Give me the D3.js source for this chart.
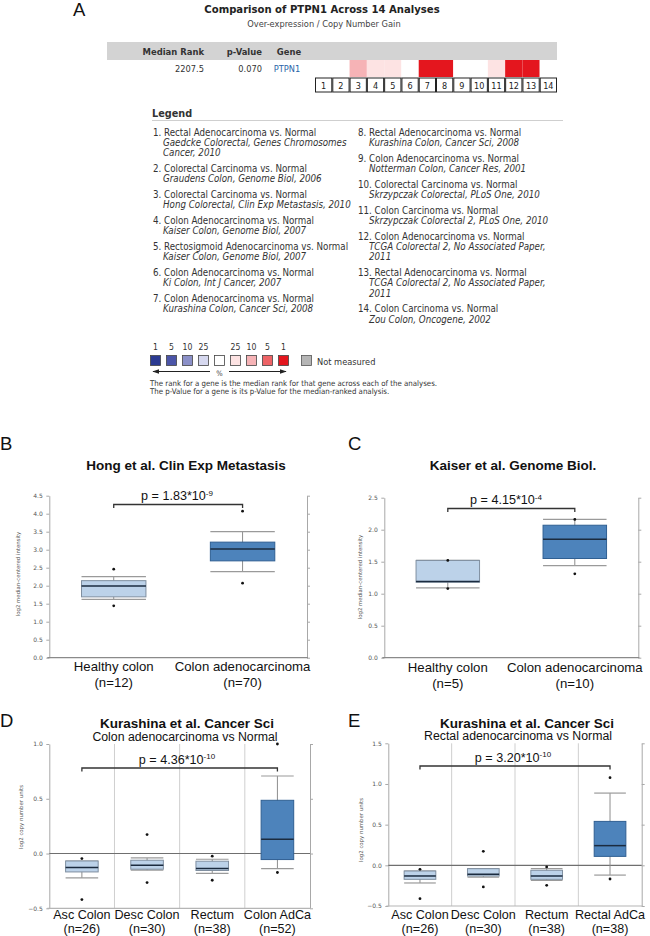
<!DOCTYPE html>
<html>
<head>
<meta charset="utf-8">
<script src="https://cdn.jsdelivr.net/npm/d3@7"></script>
<style>
  body { margin: 0; background: #fff; }
  svg { display: block; }
</style>
</head>
<body>
<div id="chart"></div>
<script>
// ---- panel A data ----
const analysisIds = [1, 2, 3, 4, 5, 6, 7, 8, 9, 10, 11, 12, 13, 14];
// rank bin (top % over-expressed) for each analysis, null = not significant
const analysisBins = [null, null, "10", "25", "25", null, "1", "1", null, null, "25", "1", "1", null];
const medianRank = "2207.5";
const pValue = "0.070";
const geneName = "PTPN1";

const legendLeft = [
  ["1. Rectal Adenocarcinoma vs. Normal", "Gaedcke Colorectal, Genes Chromosomes", "Cancer, 2010"],
  ["2. Colorectal Carcinoma vs. Normal", "Graudens Colon, Genome Biol, 2006"],
  ["3. Colorectal Carcinoma vs. Normal", "Hong Colorectal, Clin Exp Metastasis, 2010"],
  ["4. Colon Adenocarcinoma vs. Normal", "Kaiser Colon, Genome Biol, 2007"],
  ["5. Rectosigmoid Adenocarcinoma vs. Normal", "Kaiser Colon, Genome Biol, 2007"],
  ["6. Colon Adenocarcinoma vs. Normal", "Ki Colon, Int J Cancer, 2007"],
  ["7. Colon Adenocarcinoma vs. Normal", "Kurashina Colon, Cancer Sci, 2008"]
];
const legendRight = [
  ["8. Rectal Adenocarcinoma vs. Normal", "Kurashina Colon, Cancer Sci, 2008"],
  ["9. Colon Adenocarcinoma vs. Normal", "Notterman Colon, Cancer Res, 2001"],
  ["10. Colorectal Carcinoma vs. Normal", "Skrzypczak Colorectal, PLoS One, 2010"],
  ["11. Colon Carcinoma vs. Normal", "Skrzypczak Colorectal 2, PLoS One, 2010"],
  ["12. Colon Adenocarcinoma vs. Normal", "TCGA Colorectal 2, No Associated Paper,", "2011"],
  ["13. Rectal Adenocarcinoma vs. Normal", "TCGA Colorectal 2, No Associated Paper,", "2011"],
  ["14. Colon Carcinoma vs. Normal", "Zou Colon, Oncogene, 2002"]
];

const scaleKeys = ["u1", "u5", "u10", "u25", "mid", "1", "5", "10", "25"];
const scaleLabels = ["1", "5", "10", "25", "", "25", "10", "5", "1"];
const scaleColors = ["#2b3a92", "#4b55a8", "#8b90c8", "#d6d8ef", "#ffffff", "#fde3e3", "#f6b3b6", "#ee6366", "#e4161e"];
const redBins = ["25", "10", "5", "1"];
const footNotes = [
  "The rank for a gene is the median rank for that gene across each of the analyses.",
  "The p-Value for a gene is its p-Value for the median-ranked analysis."
];

// ---- panel B ----
const bGroups = ["Healthy colon", "Colon adenocarcinoma"];
const bN = ["(n=12)", "(n=70)"];
// [whisker low, q1, median, q3, whisker high]
const bBoxes = [[1.62, 1.69, 1.99, 2.14, 2.25], [2.39, 2.69, 3.02, 3.21, 3.50]];
const bPoints = [[1.44, 2.46], [2.07, 4.07]];
const bTicks = [0, 0.5, 1, 1.5, 2, 2.5, 3, 3.5, 4, 4.5];

// ---- panel C ----
const cGroups = ["Healthy colon", "Colon adenocarcinoma"];
const cN = ["(n=5)", "(n=10)"];
const cBoxes = [[1.09, 1.18, 1.19, 1.52, 1.52], [1.44, 1.55, 1.85, 2.07, 2.16]];
const cPoints = [[1.08, 1.52], [1.31, 2.16]];
const cTicks = [0, 0.5, 1, 1.5, 2, 2.5];

// ---- panel D ----
const dGroups = ["Asc Colon", "Desc Colon", "Rectum", "Colon AdCa"];
const dN = ["(n=26)", "(n=30)", "(n=38)", "(n=52)"];
const dBoxes = [
  [-0.223, -0.168, -0.128, -0.068, -0.068],
  [-0.152, -0.143, -0.107, -0.061, -0.040],
  [-0.182, -0.155, -0.137, -0.070, -0.052],
  [-0.137, -0.055, 0.130, 0.486, 0.708]
];
const dPoints = [[-0.42, -0.046], [-0.265, 0.173], [-0.244, -0.024], [-0.173, 1.0]];
const dTicks = [-0.5, 0, 0.5, 1.0];

// ---- panel E ----
const eGroups = ["Asc Colon", "Desc Colon", "Rectum", "Rectal AdCa"];
const eN = ["(n=26)", "(n=30)", "(n=38)", "(n=38)"];
const eBoxes = [
  [-0.217, -0.172, -0.131, -0.070, -0.070],
  [-0.144, -0.131, -0.110, -0.041, -0.040],
  [-0.184, -0.172, -0.131, -0.061, -0.040],
  [-0.120, 0.110, 0.242, 0.540, 0.888]
];
const ePoints = [[-0.41, -0.049], [-0.266, 0.172], [-0.246, -0.020], [-0.168, 1.077]];
const eTicks = [-0.5, 0, 0.5, 1.0, 1.5];

// ---------------------------------------------------------------
const W = 650, H = 936;
const arial = "'Liberation Sans', Arial, sans-serif";
const tahoma = "'DejaVu Sans Condensed', 'DejaVu Sans', Verdana, sans-serif";
const lightFill = "#bcd2e9", darkFill = "#4d83bb";

const svg = d3.select("#chart").append("svg")
  .attr("width", W).attr("height", H)
  .style("background", "#fff");

svg.append("rect").attr("width", W).attr("height", H).attr("fill", "#fff");

function panelLetter(x, y, t) {
  svg.append("text").attr("x", x).attr("y", y)
    .attr("font-family", arial).attr("font-size", 18.5).attr("fill", "#111")
    .text(t);
}

// ================= Panel A =================
const a = svg.append("g");
panelLetter(73, 16, "A");

a.append("text").attr("x", 322).attr("y", 13).attr("text-anchor", "middle")
  .attr("font-family", tahoma).attr("font-weight", "bold").attr("font-size", 11.2).attr("fill", "#222")
  .text("Comparison of " + geneName + " Across 14 Analyses");
a.append("text").attr("x", 324).attr("y", 27).attr("text-anchor", "middle")
  .attr("font-family", tahoma).attr("font-size", 9.2).attr("fill", "#444")
  .text("Over-expression / Copy Number Gain");

a.append("rect").attr("x", 107).attr("y", 42).attr("width", 450).attr("height", 18)
  .attr("fill", "#d3d3d3");

const hdr = [["Median Rank", 204, "end"], ["p-Value", 262, "end"], ["Gene", 289, "middle"]];
a.selectAll("text.hdr").data(hdr).enter().append("text")
  .attr("class", "hdr")
  .attr("x", d => d[1]).attr("y", 55).attr("text-anchor", d => d[2])
  .attr("font-family", tahoma).attr("font-weight", "bold").attr("font-size", 9.4).attr("fill", "#333")
  .text(d => d[0]);

const rowVals = [[medianRank, 204, "end", "#333"], [pValue, 262, "end", "#333"], [geneName, 287, "middle", "#2a64a8"]];
a.selectAll("text.rowv").data(rowVals).enter().append("text")
  .attr("class", "rowv")
  .attr("x", d => d[1]).attr("y", 72).attr("text-anchor", d => d[2])
  .attr("font-family", tahoma).attr("font-size", 9.2).attr("fill", d => d[3])
  .text(d => d[0]);

const xCell = d3.scaleBand().domain(analysisIds).range([315, 557]);
const binColor = d3.scaleOrdinal().domain(redBins).range(scaleColors.slice(5)).unknown("#ffffff");

a.selectAll("rect.cell").data(analysisIds).enter().append("rect")
  .attr("class", "cell")
  .attr("x", d => xCell(d)).attr("y", 60)
  .attr("width", xCell.bandwidth()).attr("height", 17)
  .attr("fill", (d, i) => binColor(analysisBins[i]));

a.selectAll("rect.num").data(analysisIds).enter().append("rect")
  .attr("class", "num")
  .attr("x", d => xCell(d) + 0.5).attr("y", 78)
  .attr("width", xCell.bandwidth() - 1).attr("height", 14)
  .attr("fill", "#fff").attr("stroke", "#222").attr("stroke-width", 1);

a.selectAll("text.num").data(analysisIds).enter().append("text")
  .attr("class", "num")
  .attr("x", d => xCell(d) + xCell.bandwidth() / 2).attr("y", 89)
  .attr("text-anchor", "middle")
  .attr("font-family", tahoma).attr("font-size", 9).attr("fill", "#222")
  .text(d => d);

// legend
a.append("text").attr("x", 152).attr("y", 117)
  .attr("font-family", tahoma).attr("font-weight", "bold").attr("font-size", 10.8).attr("fill", "#333")
  .text("Legend");
a.append("line").attr("x1", 152).attr("x2", 563).attr("y1", 120.5).attr("y2", 120.5)
  .attr("stroke", "#cfcfcf").attr("stroke-width", 1.2);

function legendColumn(items, x0, indent) {
  let y = 135.5;
  items.forEach(lines => {
    lines.forEach((t, j) => {
      a.append("text")
        .attr("x", j === 0 ? x0 : x0 + indent).attr("y", y + j * 10.4)
        .attr("font-family", tahoma).attr("font-size", 9.7)
        .attr("font-style", j === 0 ? "normal" : "italic")
        .attr("fill", "#333")
        .text(t);
    });
    y += lines.length * 10.4 + 5.2;
  });
}
legendColumn(legendLeft, 153, 10);
legendColumn(legendRight, 358, 11);

// colour scale
const xKey = d3.scalePoint().domain(scaleKeys).range([155.5, 283.5]);
a.selectAll("rect.key").data(scaleKeys).enter().append("rect")
  .attr("class", "key")
  .attr("x", d => xKey(d) - 5).attr("y", 355.5)
  .attr("width", 10).attr("height", 10)
  .attr("fill", (d, i) => scaleColors[i]).attr("stroke", "#444").attr("stroke-width", 0.8);
a.selectAll("text.key").data(scaleKeys).enter().append("text")
  .attr("class", "key")
  .attr("x", d => xKey(d)).attr("y", 350)
  .attr("text-anchor", "middle")
  .attr("font-family", tahoma).attr("font-size", 8.6).attr("fill", "#333")
  .text((d, i) => scaleLabels[i]);
a.append("rect").attr("x", 301.5).attr("y", 355.5).attr("width", 10).attr("height", 10)
  .attr("fill", "#b5b5b5").attr("stroke", "#555").attr("stroke-width", 0.8);
a.append("text").attr("x", 317).attr("y", 364.5)
  .attr("font-family", tahoma).attr("font-size", 9.2).attr("fill", "#333")
  .text("Not measured");

const defs = svg.append("defs");
defs.append("marker").attr("id", "ah").attr("viewBox", "0 0 10 10")
  .attr("refX", 9).attr("refY", 5).attr("markerWidth", 7).attr("markerHeight", 7)
  .attr("orient", "auto-start-reverse")
  .append("path").attr("d", "M0,1.5L10,5L0,8.5Z").attr("fill", "#222");
a.append("line").attr("x1", 210).attr("x2", 153).attr("y1", 371.5).attr("y2", 371.5)
  .attr("stroke", "#222").attr("stroke-width", 1).attr("marker-end", "url(#ah)");
a.append("line").attr("x1", 229).attr("x2", 286).attr("y1", 371.5).attr("y2", 371.5)
  .attr("stroke", "#222").attr("stroke-width", 1).attr("marker-end", "url(#ah)");
a.append("text").attr("x", 219.5).attr("y", 375.5).attr("text-anchor", "middle")
  .attr("font-family", tahoma).attr("font-size", 7.5).attr("fill", "#444").text("%");

a.selectAll("text.foot").data(footNotes).enter().append("text")
  .attr("class", "foot")
  .attr("x", 150).attr("y", (d, i) => 386 + i * 8)
  .attr("font-family", tahoma).attr("font-size", 7.8).attr("fill", "#333")
  .text(d => d);

// ================= Box plot panels =================
function boxPanel(cfg) {
  const g = svg.append("g");
  const y = d3.scaleLinear().domain(cfg.domain).range([cfg.bottom, cfg.top]);
  const x = d3.scalePoint().domain(cfg.groups).range([cfg.left, cfg.right]).padding(0.5);
  const step = x.step();
  const bw = step * cfg.boxFrac;

  // title(s)
  g.append("text").attr("x", cfg.titleX).attr("y", cfg.titleY).attr("text-anchor", "middle")
    .attr("font-family", arial).attr("font-weight", "bold").attr("font-size", 13.5).attr("fill", "#111")
    .text(cfg.title);
  if (cfg.subtitle) {
    g.append("text").attr("x", cfg.subX).attr("y", cfg.titleY + 12.5).attr("text-anchor", "middle")
      .attr("font-family", arial).attr("font-size", 12.3).attr("fill", "#111")
      .text(cfg.subtitle);
  }

  // band separators
  if (cfg.separators) {
    g.selectAll("line.sep").data(cfg.groups.slice(1)).enter().append("line")
      .attr("x1", d => x(d) - step / 2).attr("x2", d => x(d) - step / 2)
      .attr("y1", cfg.top).attr("y2", cfg.bottom)
      .attr("stroke", "#cfcfcf").attr("stroke-width", 1);
  }

  // axes
  const yl = g.append("g").attr("transform", `translate(${cfg.left},0)`)
    .call(d3.axisLeft(y).tickValues(cfg.ticks).tickFormat(d3.format(".1f")).tickSize(3).tickSizeOuter(0).tickPadding(3.5));
  const yr = g.append("g").attr("transform", `translate(${cfg.right},0)`)
    .call(d3.axisRight(y).tickValues(cfg.ticks).tickFormat("").tickSize(3).tickSizeOuter(0));
  [yl, yr].forEach(ax => {
    ax.select(".domain").attr("stroke", "#a8a8a8");
    ax.selectAll(".tick line").attr("stroke", "#a8a8a8");
    ax.selectAll("text").attr("font-family", "'DejaVu Sans', sans-serif").attr("font-size", 6).attr("fill", "#555");
  });
  g.append("line").attr("x1", cfg.left - 2).attr("x2", cfg.right + 1)
    .attr("y1", cfg.bottom).attr("y2", cfg.bottom)
    .attr("stroke", cfg.separators ? "#b5b5b5" : "#8a8a8a").attr("stroke-width", 1.2);
  if (cfg.zeroLine) {
    g.append("line").attr("x1", cfg.left).attr("x2", cfg.right)
      .attr("y1", y(0)).attr("y2", y(0))
      .attr("stroke", "#6f6f6f").attr("stroke-width", 1.1);
  }

  g.append("text")
    .attr("transform", `translate(${cfg.yLabelX},${cfg.yLabelY}) rotate(-90)`)
    .attr("text-anchor", "middle")
    .attr("font-family", "'DejaVu Sans', sans-serif").attr("font-size", 5.4).attr("fill", "#555")
    .text(cfg.yLabel);

  // boxes
  const box = g.selectAll("g.box").data(cfg.boxes).enter().append("g")
    .attr("transform", (d, i) => `translate(${x(cfg.groups[i])},0)`);
  box.append("line").attr("x1", 0).attr("x2", 0)
    .attr("y1", d => y(d[0])).attr("y2", d => y(d[4]))
    .attr("stroke", "#8d8d8d").attr("stroke-width", 1);
  box.append("line").attr("x1", -bw / 2).attr("x2", bw / 2)
    .attr("y1", d => y(d[0])).attr("y2", d => y(d[0]))
    .attr("stroke", "#9a9a9a").attr("stroke-width", 1.2);
  box.append("line").attr("x1", -bw / 2).attr("x2", bw / 2)
    .attr("y1", d => y(d[4])).attr("y2", d => y(d[4]))
    .attr("stroke", "#9a9a9a").attr("stroke-width", 1.2);
  box.append("rect")
    .attr("x", -bw / 2).attr("width", bw)
    .attr("y", d => y(d[3])).attr("height", d => Math.max(1, y(d[1]) - y(d[3])))
    .attr("fill", (d, i) => i === cfg.boxes.length - 1 ? darkFill : lightFill)
    .attr("stroke", (d, i) => i === cfg.boxes.length - 1 ? "#2f5f92" : "#7f8fa0")
    .attr("stroke-width", 1);
  box.append("line").attr("x1", -bw / 2).attr("x2", bw / 2)
    .attr("y1", d => y(d[2])).attr("y2", d => y(d[2]))
    .attr("stroke", "#1b2b3f").attr("stroke-width", 1.5);
  box.selectAll("circle").data((d, i) => cfg.points[i]).enter().append("circle")
    .attr("cx", 0).attr("cy", v => y(v)).attr("r", 1.4).attr("fill", "#111");

  // significance bracket
  const bx1 = x(cfg.groups[0]), bx2 = x(cfg.groups[cfg.groups.length - 1]);
  g.append("path")
    .attr("d", `M${bx1},${cfg.bracketY + 3.5}V${cfg.bracketY}H${bx2}V${cfg.bracketY + 3.5}`)
    .attr("fill", "none").attr("stroke", "#333").attr("stroke-width", 1.3);
  const pt = g.append("text").attr("x", cfg.pX).attr("y", cfg.bracketY - 4.5).attr("text-anchor", "middle")
    .attr("font-family", arial).attr("font-size", 12.6).attr("fill", "#111");
  pt.append("tspan").text(cfg.pText);
  pt.append("tspan").attr("dy", -4.5).attr("font-size", 8).text(cfg.pExp);

  // x labels
  const xl = g.selectAll("g.xl").data(cfg.groups).enter().append("g")
    .attr("transform", d => `translate(${x(d)},0)`);
  xl.append("text").attr("y", cfg.bottom + cfg.xl1).attr("text-anchor", "middle")
    .attr("font-family", arial).attr("font-size", cfg.xFont).attr("fill", "#111")
    .text(d => d);
  xl.append("text").attr("y", cfg.bottom + cfg.xl2).attr("text-anchor", "middle")
    .attr("font-family", arial).attr("font-size", cfg.xFont).attr("fill", "#111")
    .text((d, i) => cfg.ns[i]);
}

panelLetter(0, 450, "B");
boxPanel({
  groups: bGroups, ns: bN, boxes: bBoxes, points: bPoints, ticks: bTicks,
  domain: [0, 4.5], top: 495.7, bottom: 657.7, left: 49.3, right: 307, boxFrac: 0.5,
  title: "Hong et al. Clin Exp Metastasis", titleX: 186, titleY: 470,
  yLabel: "log2 median-centered intensity", yLabelX: 19.5, yLabelY: 574,
  bracketY: 504.5, pX: 177, pText: "p = 1.83*10", pExp: "-9",
  xl1: 13.5, xl2: 29, xFont: 13.2
});

panelLetter(348, 450, "C");
boxPanel({
  groups: cGroups, ns: cN, boxes: cBoxes, points: cPoints, ticks: cTicks,
  domain: [0, 2.5], top: 497.7, bottom: 657.7, left: 384.3, right: 638.3, boxFrac: 0.5,
  title: "Kaiser et al. Genome Biol.", titleX: 513, titleY: 470,
  yLabel: "log2 median-centered intensity", yLabelX: 361.5, yLabelY: 577,
  bracketY: 508.5, pX: 506, pText: "p = 4.15*10", pExp: "-4",
  xl1: 14, xl2: 30.5, xFont: 13.2
});

panelLetter(0, 727, "D");
boxPanel({
  groups: dGroups, ns: dN, boxes: dBoxes, points: dPoints, ticks: dTicks,
  domain: [-0.5, 1.0], top: 744, bottom: 908.3, left: 49.3, right: 310, boxFrac: 0.5,
  separators: true, zeroLine: true,
  title: "Kurashina et al. Cancer Sci", titleX: 187, titleY: 728, subtitle: "Colon adenocarcinoma vs Normal", subX: 185,
  yLabel: "log2 copy number units", yLabelX: 23, yLabelY: 817,
  bracketY: 768, pX: 177, pText: "p = 4.36*10", pExp: "-10",
  xl1: 10.5, xl2: 25, xFont: 12.6
});

panelLetter(348, 727, "E");
boxPanel({
  groups: eGroups, ns: eN, boxes: eBoxes, points: ePoints, ticks: eTicks,
  domain: [-0.5, 1.5], top: 743.3, bottom: 906, left: 388.3, right: 641.7, boxFrac: 0.5,
  separators: true, zeroLine: true,
  title: "Kurashina et al. Cancer Sci", titleX: 527, titleY: 727.5, subtitle: "Rectal adenocarcinoma vs Normal", subX: 518,
  yLabel: "log2 copy number units", yLabelX: 363, yLabelY: 830,
  bracketY: 766, pX: 513, pText: "p = 3.20*10", pExp: "-10",
  xl1: 12.5, xl2: 27, xFont: 12.6
});
</script>
</body>
</html>
